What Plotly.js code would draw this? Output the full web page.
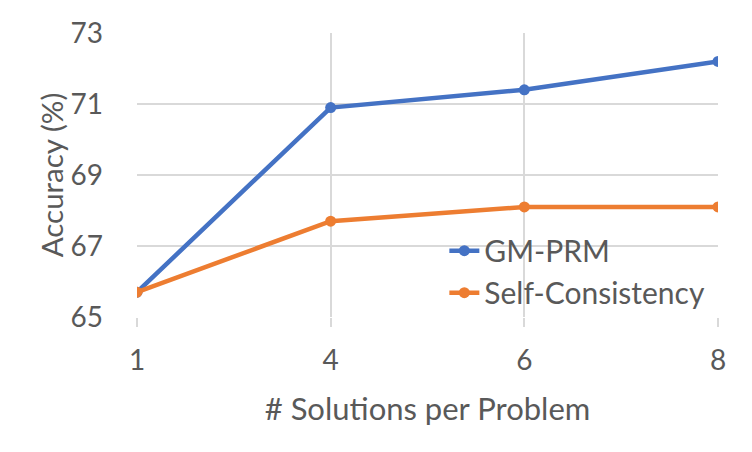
<!DOCTYPE html>
<html>
<head>
<meta charset="utf-8">
<script src="https://cdn.plot.ly/plotly-3.0.1.min.js"></script>
<style>
  html, body { margin: 0; padding: 0; background: #fff; }
  #chart { width: 752px; height: 452px; }
</style>
</head>
<body>
<div id="chart"></div>
<script>
// ── Data ──────────────────────────────────────────────────────────────────
const solutions = ['1', '4', '6', '8'];
const gmPrm = [65.7, 70.9, 71.4, 72.2];
const selfConsistency = [65.7, 67.7, 68.1, 68.1];
const yTicks = [65, 67, 69, 71, 73];

const TEXT = '#595959';
const GRID = '#D9D9D9';
const FONT = 'Lato, "Open Sans", sans-serif';

const traces = [
  {
    x: solutions, y: gmPrm,
    type: 'scatter', mode: 'lines+markers',
    line: { color: '#4472C4', width: 4.5 },
    marker: { color: '#4472C4', size: 11 },
    name: 'GM-PRM',
  },
  {
    x: solutions, y: selfConsistency,
    type: 'scatter', mode: 'lines+markers',
    line: { color: '#ED7D31', width: 4.5 },
    marker: { color: '#ED7D31', size: 11 },
    name: 'Self-Consistency',
  },
];

const layout = {
  width: 752, height: 452,
  margin: { l: 137, r: 34, t: 33, b: 135 },
  paper_bgcolor: '#fff', plot_bgcolor: '#fff',
  font: { family: FONT, color: TEXT, size: 28 },
  showlegend: true,
  legend: {
    x: 0.529, y: 0.325, xanchor: 'left', yanchor: 'top',
    bgcolor: 'rgba(0,0,0,0)',
    font: { family: FONT, size: 30, color: TEXT },
    tracegroupgap: 0,
  },
  xaxis: {
    type: 'category',
    range: [0, 3],
    showgrid: true, gridcolor: GRID, gridwidth: 2,
    zeroline: false, showline: false,
    ticks: 'outside', ticklen: 9, tickcolor: GRID, tickwidth: 2,
    ticklabelstandoff: 9,
    tickfont: { family: FONT, size: 28, color: TEXT },
    title: { text: '# Solutions per Problem', font: { family: FONT, size: 31, color: TEXT } },
  },
  yaxis: {
    range: [65, 73],
    tickvals: yTicks,
    showgrid: true, gridcolor: GRID, gridwidth: 2,
    zeroline: false, showline: false,
    ticks: '',
    ticklabelstandoff: 33,
    tickfont: { family: FONT, size: 28, color: TEXT },
    title: { text: 'Accuracy (%)', font: { family: FONT, size: 29.5, color: TEXT } },
  },
};

Plotly.newPlot('chart', traces, layout, { staticPlot: true, displayModeBar: false });
</script>
</body>
</html>
